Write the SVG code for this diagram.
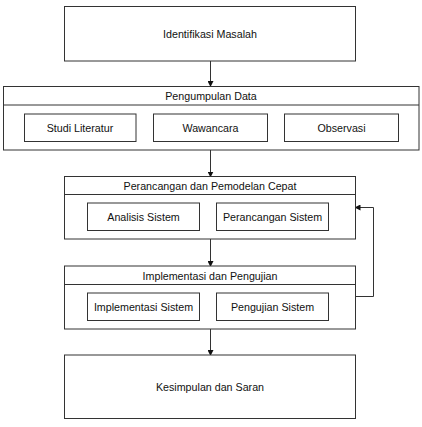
<svg xmlns="http://www.w3.org/2000/svg" width="422" height="427" viewBox="0 0 422 427">
<style>
rect{fill:#fff;stroke:#333;stroke-width:1}
.ln{stroke:#333;stroke-width:1;fill:none}
text{font-family:"Liberation Sans",Arial,sans-serif;font-size:10.7px;fill:#111;text-anchor:middle;dominant-baseline:central}
</style>
<defs>
<marker id="ah" markerWidth="6" markerHeight="6" refX="5" refY="3" orient="auto" markerUnits="userSpaceOnUse">
<path d="M0,0 L6,3 L0,6 Z" fill="#111"/>
</marker>
</defs>
<rect width="422" height="427" style="fill:#fff;stroke:none"/>
<g id="connectors">
<line class="ln" x1="210.5" y1="61" x2="210.5" y2="86" marker-end="url(#ah)"/>
<line class="ln" x1="210.5" y1="150" x2="210.5" y2="176.5" marker-end="url(#ah)"/>
<line class="ln" x1="199.5" y1="216.5" x2="216.5" y2="216.5" marker-end="url(#ah)"/>
<line class="ln" x1="210.5" y1="239" x2="210.5" y2="266" marker-end="url(#ah)"/>
<line class="ln" x1="199.5" y1="306" x2="216.5" y2="306" marker-end="url(#ah)"/>
<polyline class="ln" points="355.5,296.5 373.5,296.5 373.5,207.5 355.5,207.5" marker-end="url(#ah)"/>
<line class="ln" x1="210.5" y1="329" x2="210.5" y2="355" marker-end="url(#ah)"/>
</g>
<g id="identifikasi">
<rect x="64.5" y="6.5" width="291" height="54.5"/>
<text x="210" y="33.5">Identifikasi Masalah</text>
</g>
<g id="pengumpulan">
<rect x="3.5" y="86.5" width="415.5" height="63.5"/>
<line class="ln" x1="3.5" y1="105" x2="419" y2="105"/>
<text x="211" y="96">Pengumpulan Data</text>
</g>
<g id="studi">
<rect x="24.5" y="114" width="111.5" height="27.5"/>
<text x="80" y="128">Studi Literatur</text>
</g>
<g id="wawancara">
<rect x="153.5" y="114" width="114" height="27.5"/>
<text x="210.5" y="128">Wawancara</text>
</g>
<g id="observasi">
<rect x="284.5" y="114" width="114" height="27.5"/>
<text x="341.5" y="128">Observasi</text>
</g>
<g id="perancangan">
<rect x="64.5" y="176.5" width="291" height="62.5"/>
<line class="ln" x1="64.5" y1="194.5" x2="355.5" y2="194.5"/>
<text x="210" y="185.5">Perancangan dan Pemodelan Cepat</text>
</g>
<g id="analisis">
<rect x="87.5" y="203" width="112" height="27.5"/>
<text x="143.5" y="217">Analisis Sistem</text>
</g>
<g id="perancangan-sistem">
<rect x="216.5" y="203" width="112" height="27.5"/>
<text x="272.5" y="217">Perancangan Sistem</text>
</g>
<g id="implementasi">
<rect x="64.5" y="266" width="291" height="63"/>
<line class="ln" x1="64.5" y1="284.5" x2="355.5" y2="284.5"/>
<text x="210" y="275.5">Implementasi dan Pengujian</text>
</g>
<g id="implementasi-sistem">
<rect x="87.5" y="293" width="112" height="27.5"/>
<text x="143.5" y="306.5">Implementasi Sistem</text>
</g>
<g id="pengujian">
<rect x="216.5" y="293" width="112" height="27.5"/>
<text x="272.5" y="306.5">Pengujian Sistem</text>
</g>
<g id="kesimpulan">
<rect x="64.5" y="355" width="291" height="63.5"/>
<text x="210" y="387">Kesimpulan dan Saran</text>
</g>
</svg>
